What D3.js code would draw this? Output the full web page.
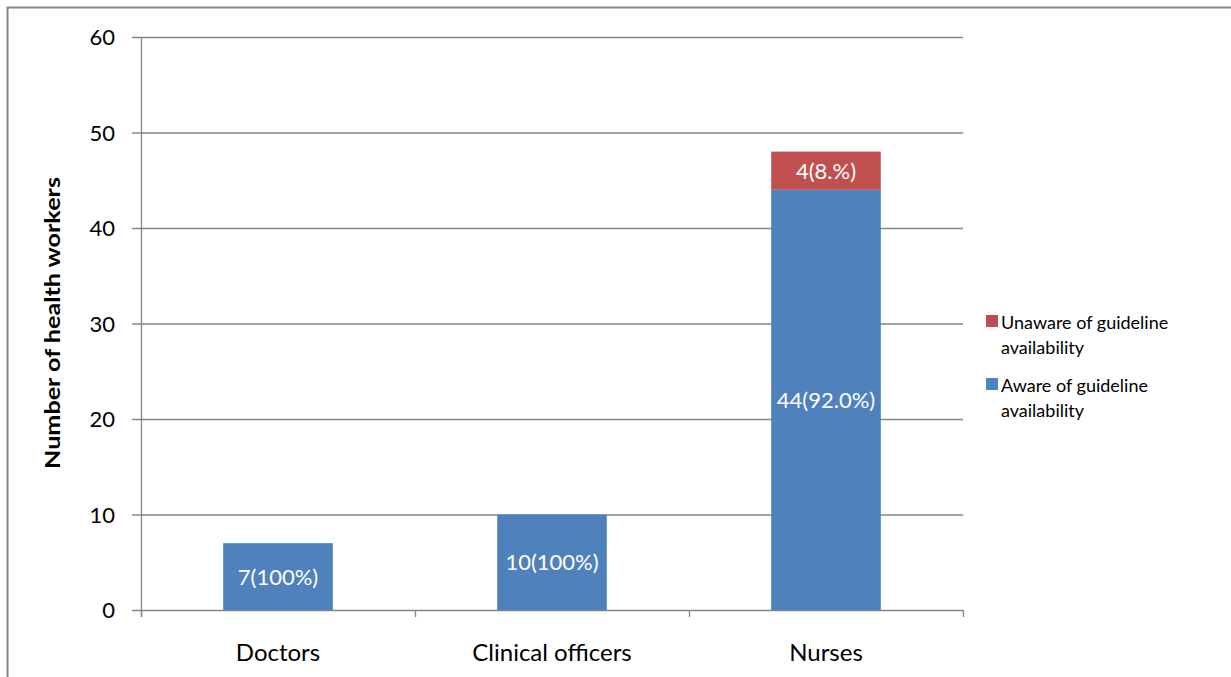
<!DOCTYPE html>
<html>
<head>
<meta charset="utf-8">
<script src="https://cdn.jsdelivr.net/npm/d3@7/dist/d3.min.js"></script>
<style>
  body { margin: 0; background: #fff; }
  svg { font-family: Lato, "Open Sans", sans-serif; }
</style>
</head>
<body>
<div id="chart"></div>
<script>
var categories = ["Doctors", "Clinical officers", "Nurses"];
var aware = [7, 10, 44];
var unaware = [0, 0, 4];
var awareLabels = ["7(100%)", "10(100%)", "44(92.0%)"];
var unawareLabels = ["", "", "4(8.%)"];
var yTicks = [0, 10, 20, 30, 40, 50, 60];
var seriesNames = ["Unaware of guideline availability", "Aware of guideline availability"];

var width = 1231, height = 677;
var plot = {left: 141, right: 963, top: 37, bottom: 610};
var blue = "#4f81bd", red = "#c0504d", grid = "#868686";

var svg = d3.select("#chart").append("svg")
    .attr("width", width)
    .attr("height", height);

// outer chart border
svg.append("rect")
    .attr("x", 7.5).attr("y", 7.5)
    .attr("width", 1240).attr("height", 700)
    .attr("fill", "none")
    .attr("stroke", "#868686")
    .attr("stroke-width", 2);

var x = d3.scaleBand().domain(categories).range([plot.left, plot.right]).paddingInner(0).paddingOuter(0);
var y = d3.scaleLinear().domain([0, 60]).range([plot.bottom, plot.top]);

// gridlines
svg.append("g").selectAll("line").data(yTicks).enter().append("line")
    .attr("x1", plot.left - 9).attr("x2", plot.right)
    .attr("y1", function(d){ return y(d) + 0.5; })
    .attr("y2", function(d){ return y(d) + 0.5; })
    .attr("stroke", grid).attr("stroke-width", 1.3);

// y axis line
svg.append("line")
    .attr("x1", plot.left + 0.5).attr("x2", plot.left + 0.5)
    .attr("y1", plot.top).attr("y2", plot.bottom + 7)
    .attr("stroke", grid).attr("stroke-width", 1.3);

// x category ticks
svg.append("g").selectAll("line").data(categories.concat(["end"])).enter().append("line")
    .attr("x1", function(d, i){ return plot.left + i * x.bandwidth() + 0.5; })
    .attr("x2", function(d, i){ return plot.left + i * x.bandwidth() + 0.5; })
    .attr("y1", plot.bottom).attr("y2", plot.bottom + 7)
    .attr("stroke", grid).attr("stroke-width", 1.3);

// y tick labels
svg.append("g").selectAll("text").data(yTicks).enter().append("text")
    .attr("x", 115).attr("y", function(d){ return y(d) + 8; })
    .attr("text-anchor", "end")
    .attr("font-size", 22).attr("fill", "#000")
    .text(function(d){ return d; });

// x labels
svg.append("g").selectAll("text").data(categories).enter().append("text")
    .attr("x", function(d){ return x(d) + x.bandwidth() / 2; })
    .attr("y", 661)
    .attr("text-anchor", "middle")
    .attr("font-size", 24).attr("fill", "#000")
    .text(function(d){ return d; });

// y axis title
svg.append("text")
    .attr("transform", "translate(60,323) rotate(-90)")
    .attr("text-anchor", "middle")
    .attr("font-size", 21).attr("font-weight", "bold")
    .attr("textLength", 292).attr("lengthAdjust", "spacingAndGlyphs")
    .text("Number of health workers");

var barW = x.bandwidth() * 0.4;

// aware bars
svg.append("g").selectAll("rect").data(categories).enter().append("rect")
    .attr("x", function(d){ return x(d) + (x.bandwidth() - barW) / 2; })
    .attr("y", function(d, i){ return y(aware[i]); })
    .attr("width", barW)
    .attr("height", function(d, i){ return y(0) - y(aware[i]); })
    .attr("fill", blue);

// unaware bars
svg.append("g").selectAll("rect").data(categories).enter().append("rect")
    .attr("x", function(d){ return x(d) + (x.bandwidth() - barW) / 2; })
    .attr("y", function(d, i){ return y(aware[i] + unaware[i]); })
    .attr("width", barW)
    .attr("height", function(d, i){ return y(aware[i]) - y(aware[i] + unaware[i]); })
    .attr("fill", red);

// bar labels
svg.append("g").selectAll("text").data(categories).enter().append("text")
    .attr("x", function(d){ return x(d) + x.bandwidth() / 2; })
    .attr("y", function(d, i){ return y(aware[i] / 2) + 8; })
    .attr("text-anchor", "middle")
    .attr("font-size", 22).attr("fill", "#fff")
    .text(function(d, i){ return awareLabels[i]; });

svg.append("g").selectAll("text").data(categories).enter().append("text")
    .attr("x", function(d){ return x(d) + x.bandwidth() / 2; })
    .attr("y", function(d, i){ return y(aware[i] + unaware[i] / 2) + 8; })
    .attr("text-anchor", "middle")
    .attr("font-size", 22).attr("fill", "#fff")
    .text(function(d, i){ return unawareLabels[i]; });

// legend
var legend = svg.append("g").selectAll("g").data(seriesNames).enter().append("g")
    .attr("transform", function(d, i){ return "translate(986," + (315 + i * 63) + ")"; });
legend.append("rect")
    .attr("width", 12).attr("height", 12)
    .attr("fill", function(d, i){ return i === 0 ? red : blue; });
var lt = legend.append("text")
    .attr("x", 15).attr("y", 14)
    .attr("font-size", 18).attr("fill", "#000");
lt.append("tspan").attr("x", 15).text(function(d){ return d.split(" ").slice(0, 3).join(" "); });
lt.append("tspan").attr("x", 15).attr("dy", 25).text(function(d){ return d.split(" ").slice(3).join(" "); });
</script>
</body>
</html>
